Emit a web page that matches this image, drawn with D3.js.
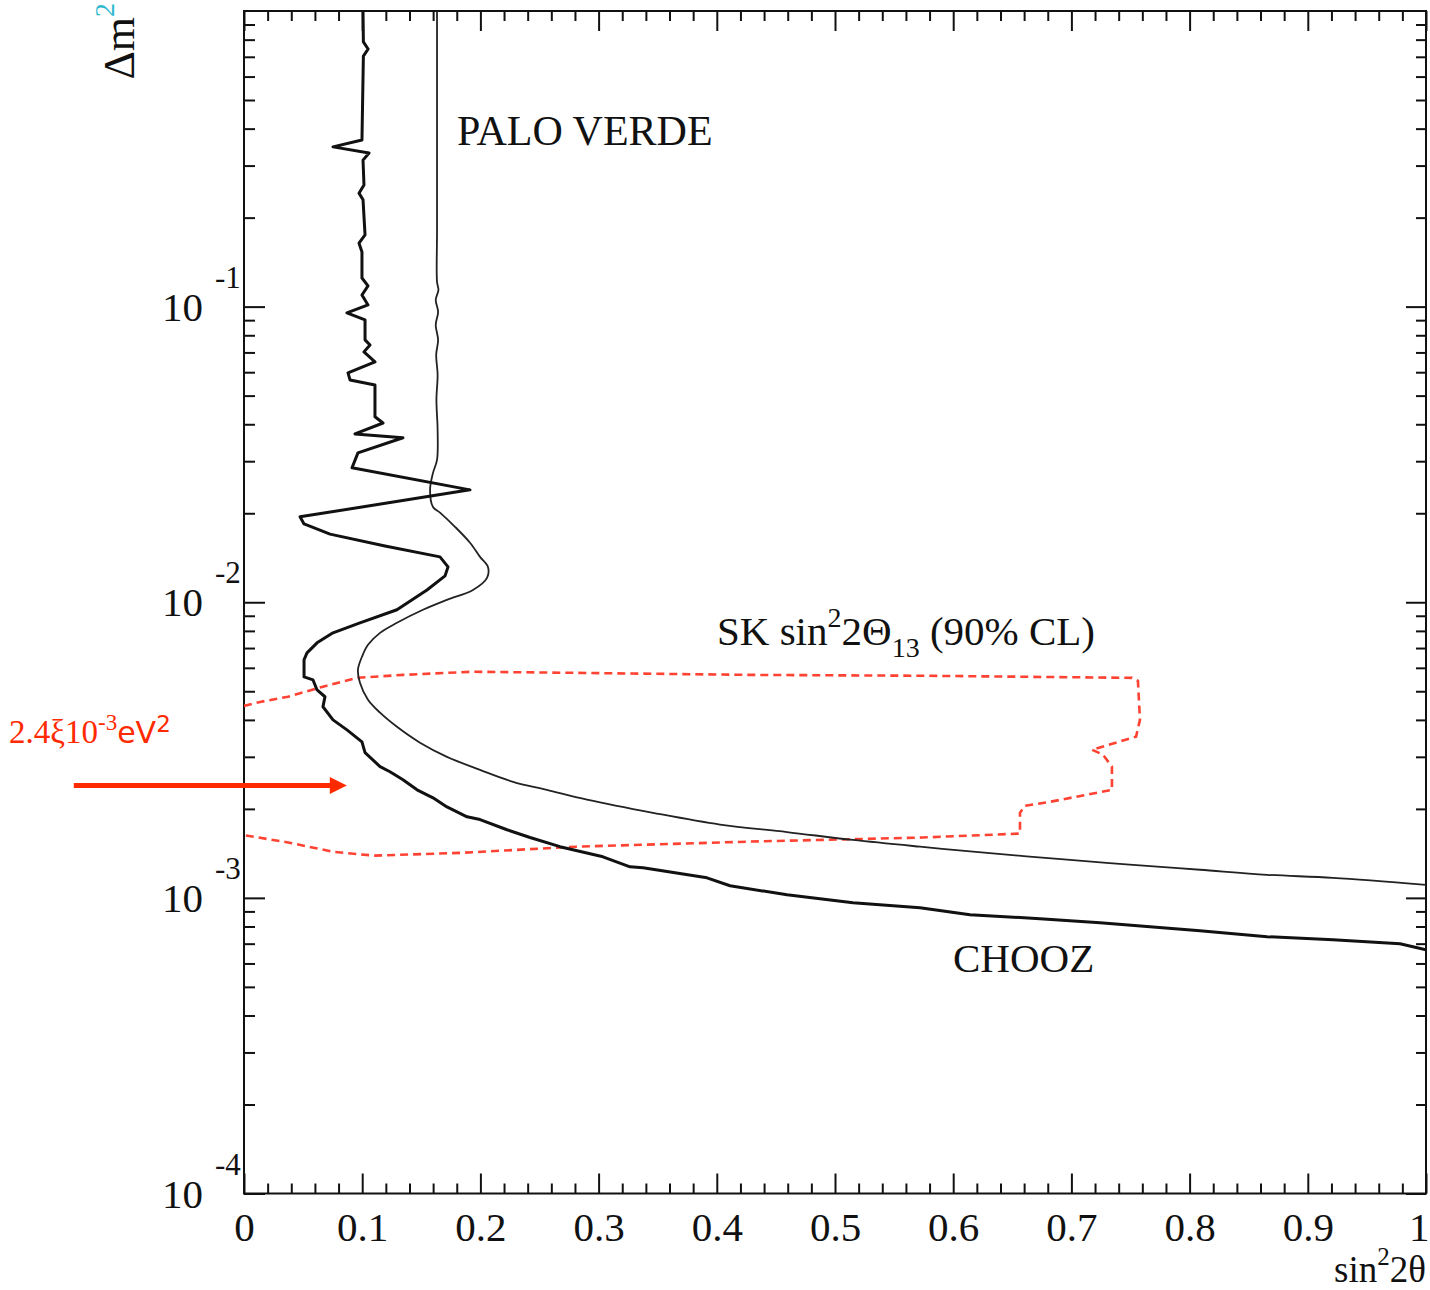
<!DOCTYPE html>
<html>
<head>
<meta charset="utf-8">
<script src="https://cdn.jsdelivr.net/npm/d3@7"></script>
<style>
  html, body { margin: 0; padding: 0; background: #fff; }
  svg { display: block; }
  text, tspan { font-family: "Liberation Serif", "Times New Roman", serif; }
  text { fill: #111; }
</style>
</head>
<body>
<svg id="chart" width="1430" height="1290"></svg>
<script>
// ---- axis tick values and labels ----
const xMajorTicks = [0, 0.1, 0.2, 0.3, 0.4, 0.5, 0.6, 0.7, 0.8, 0.9, 1];
const xTickLabels = ["0", "0.1", "0.2", "0.3", "0.4", "0.5", "0.6", "0.7", "0.8", "0.9", "1"];
const yDecades = [1e-4, 1e-3, 1e-2, 1e-1];
const yExponents = ["-4", "-3", "-2", "-1"];

// ---- CHOOZ exclusion contour (sin^2 2θ, Δm^2 in eV^2) ----
const choozSin2 = [0.1007, 0.101, 0.105, 0.101, 0.0998, 0.0753, 0.1058, 0.1007, 0.1015, 0.0973,
  0.1007, 0.1024, 0.0973, 0.0998, 0.0998, 0.1049, 0.0998, 0.1049, 0.0871, 0.1024,
  0.1024, 0.1066, 0.1015, 0.1108, 0.088, 0.0897, 0.1108, 0.1108, 0.1176, 0.0939,
  0.1345, 0.0964, 0.0914, 0.1912, 0.0474, 0.0508, 0.0728, 0.1193, 0.1658, 0.1726,
  0.1701, 0.1548, 0.1294, 0.0981, 0.0753, 0.0618, 0.0533, 0.0508, 0.0508, 0.0584,
  0.0618, 0.0685, 0.0668, 0.0753, 0.0871, 0.0998, 0.1024, 0.1151, 0.1235, 0.1345,
  0.1464, 0.1599, 0.1717, 0.1887, 0.1997, 0.2225, 0.2420, 0.2673, 0.3037, 0.3266,
  0.3376, 0.3917, 0.4112, 0.4594, 0.5152, 0.5719, 0.6142, 0.6734, 0.7242, 0.8088,
  0.8655, 0.9213, 0.978, 1.0];
const choozDm2 = [1.0, 0.786, 0.744, 0.704, 0.366, 0.347, 0.331, 0.313, 0.258, 0.242,
  0.230, 0.175, 0.164, 0.153, 0.125, 0.1175, 0.1095, 0.1013, 0.0952, 0.0902,
  0.0772, 0.0742, 0.0703, 0.0650, 0.0597, 0.0565, 0.0543, 0.0424, 0.0404, 0.0371,
  0.0360, 0.0320, 0.0285, 0.0240, 0.01945, 0.0184, 0.0170, 0.0155, 0.01424, 0.01317,
  0.01228, 0.0110, 0.00943, 0.00852, 0.00788, 0.00729, 0.00674, 0.00639, 0.00559, 0.00546,
  0.00505, 0.00479, 0.00443, 0.00400, 0.00370, 0.00337, 0.00310, 0.00278, 0.00267, 0.00251,
  0.00232, 0.00218, 0.00203, 0.00188, 0.00184, 0.00170, 0.00160, 0.00149, 0.001377, 0.001274,
  0.001264, 0.001169, 0.001099, 0.001024, 0.000962, 0.000926, 0.000877, 0.000850, 0.000824, 0.000774,
  0.000739, 0.000722, 0.000700, 0.000668];

// ---- Palo Verde exclusion contour ----
const paloSin2 = [0.1633, 0.1633, 0.1633, 0.1633, 0.1645, 0.1622, 0.1642, 0.1622, 0.1642, 0.1626,
  0.1638, 0.1628, 0.1638, 0.1633, 0.1599, 0.1574, 0.1599, 0.1658, 0.1785, 0.1912,
  0.1997, 0.2064, 0.2056, 0.1937, 0.1717, 0.1514, 0.1294, 0.1151, 0.1049, 0.0998,
  0.0964, 0.0981, 0.1049, 0.1151, 0.1294, 0.1489, 0.1717, 0.1997, 0.2276, 0.2563,
  0.2902, 0.346, 0.4027, 0.4594, 0.5152, 0.5719, 0.6286, 0.6963, 0.7521, 0.8088,
  0.8655, 0.9213, 1.0];
const paloDm2 = [1.0, 0.4, 0.18, 0.1212, 0.1139, 0.1054, 0.0960, 0.0867, 0.0772, 0.0687,
  0.0588, 0.0484, 0.0383, 0.0303, 0.0274, 0.0240, 0.0210, 0.0201, 0.0180, 0.0159,
  0.01424, 0.01317, 0.01209, 0.0110, 0.01019, 0.00943, 0.00852, 0.00788, 0.00718, 0.00654,
  0.00591, 0.00534, 0.00468, 0.00423, 0.00379, 0.00335, 0.00300, 0.00271, 0.00247, 0.00232,
  0.00215, 0.00194, 0.00177, 0.00167, 0.00157, 0.00149, 0.00142, 0.001346, 0.001294, 0.001245,
  0.001197, 0.001169, 0.001107];

// ---- Super-Kamiokande allowed region, 90% CL ----
const skSin2 = [0, 0.0135, 0.0372, 0.066, 0.0956, 0.1345, 0.1929, 0.2809, 0.4264, 0.577,
  0.7513, 0.7563, 0.758, 0.7547, 0.7174, 0.7267, 0.7343, 0.7343, 0.681, 0.6607,
  0.6565, 0.6565, 0.5736, 0.4272, 0.2809, 0.1836, 0.11, 0.0761, 0.0372, 0];
const skDm2 = [0.00446, 0.00460, 0.00479, 0.00517, 0.00555, 0.00568, 0.00582, 0.00577, 0.00568, 0.00564,
  0.00555, 0.00542, 0.00400, 0.00351, 0.00317, 0.00305, 0.00278, 0.00232, 0.00211, 0.00205,
  0.00194, 0.00165, 0.00160, 0.00155, 0.00149, 0.00142, 0.00139, 0.00143, 0.00154, 0.00163];

// ---- marked atmospheric mass splitting ----
const markerDm2 = 2.4e-3;
const markerSin2From = -0.144;
const markerSin2To = 0.087;

// ---- scales ----
const svg = d3.select("#chart");
svg.append("rect").attr("width", 1430).attr("height", 1290).attr("fill", "#fff");

const x = d3.scaleLinear().domain([0, 1]).range([244, 1426]);
const y = d3.scaleLog().domain([1e-4, 1]).range([1193.5, 11]);
const [x0, x1] = x.range();
const [yB, yT] = y.range();

const xMinor = d3.range(0, 51).map(i => i / 50).filter(v => Math.abs(v * 10 - Math.round(v * 10)) > 1e-6);
const yMinor = y.ticks().filter(v => {
  const l = Math.log10(v);
  return Math.abs(l - Math.round(l)) > 1e-6;
});

function styleAxis(g) {
  g.select(".domain").remove();
  g.selectAll(".tick line").attr("stroke", "#111").attr("stroke-width", 2);
}

// ---- ticks on all four sides, pointing inward ----
const axes = svg.append("g");
axes.append("g").attr("transform", `translate(0,${yB})`)
  .call(d3.axisBottom(x).tickValues(xMinor).tickSize(-10).tickFormat(""))
  .call(styleAxis);
const bottomMajor = axes.append("g").attr("transform", `translate(0,${yB})`)
  .call(d3.axisBottom(x).tickValues(xMajorTicks).tickSize(-20).tickPadding(18)
    .tickFormat((d, i) => xTickLabels[i]))
  .call(styleAxis);
bottomMajor.attr("font-family", null).attr("font-size", null);
bottomMajor.selectAll(".tick text").attr("font-size", 41).attr("fill", "#111");
// the last label sits on the right edge of the page; keep it fully on the page
bottomMajor.selectAll(".tick text").filter(d => d === 1)
  .attr("text-anchor", "end").attr("x", 1429 - x(1));

axes.append("g").attr("transform", `translate(0,${yT})`)
  .call(d3.axisTop(x).tickValues(xMinor).tickSize(-10).tickFormat(""))
  .call(styleAxis);
axes.append("g").attr("transform", `translate(0,${yT})`)
  .call(d3.axisTop(x).tickValues(xMajorTicks).tickSize(-20).tickFormat(""))
  .call(styleAxis);

axes.append("g").attr("transform", `translate(${x0},0)`)
  .call(d3.axisLeft(y).tickValues(yMinor).tickSize(-11).tickFormat(""))
  .call(styleAxis);
axes.append("g").attr("transform", `translate(${x0},0)`)
  .call(d3.axisLeft(y).tickValues(yDecades).tickSize(-21).tickFormat(""))
  .call(styleAxis);
axes.append("g").attr("transform", `translate(${x1},0)`)
  .call(d3.axisRight(y).tickValues(yMinor).tickSize(-10).tickFormat(""))
  .call(styleAxis);
axes.append("g").attr("transform", `translate(${x1},0)`)
  .call(d3.axisRight(y).tickValues(yDecades).tickSize(-20).tickFormat(""))
  .call(styleAxis);

// frame
svg.append("rect")
  .attr("x", x0).attr("y", yT).attr("width", x1 - x0).attr("height", yB - yT)
  .attr("fill", "none").attr("stroke", "#111").attr("stroke-width", 2);

// decade labels written as 10 with a raised exponent
const yLab = svg.append("g");
yDecades.forEach((d, i) => {
  yLab.append("text").attr("x", 203).attr("y", y(d) + 14)
    .attr("text-anchor", "end").attr("font-size", 41).text("10");
  yLab.append("text").attr("x", 215).attr("y", y(d) - 19)
    .attr("font-size", 31).text(yExponents[i]);
});

// ---- contours ----
const clip = svg.append("clipPath").attr("id", "plotArea");
clip.append("rect").attr("x", x0).attr("y", yT).attr("width", x1 - x0).attr("height", yB - yT);
const plot = svg.append("g").attr("clip-path", "url(#plotArea)");

const pairs = (xs, ys) => xs.map((v, i) => [v, ys[i]]);
const straight = d3.line().x(d => x(d[0])).y(d => y(d[1]));
const smooth = d3.line().x(d => x(d[0])).y(d => y(d[1])).curve(d3.curveCatmullRom.alpha(0.5));

plot.append("path")
  .datum(pairs(skSin2, skDm2))
  .attr("d", straight)
  .attr("fill", "none").attr("stroke", "#ff4232").attr("stroke-width", 2.6)
  .attr("stroke-dasharray", "8,5");

plot.append("path")
  .datum(pairs(paloSin2, paloDm2))
  .attr("d", smooth)
  .attr("fill", "none").attr("stroke", "#222").attr("stroke-width", 1.8);

plot.append("path")
  .datum(pairs(choozSin2, choozDm2))
  .attr("d", straight)
  .attr("fill", "none").attr("stroke", "#111").attr("stroke-width", 3)
  .attr("stroke-linejoin", "round");

// ---- curve labels ----
svg.append("text").attr("x", 457).attr("y", 145).attr("font-size", 42).text("PALO VERDE");
svg.append("text").attr("x", 953).attr("y", 972).attr("font-size", 41).text("CHOOZ");

const sk = svg.append("text").attr("x", 717).attr("y", 645).attr("font-size", 41);
sk.append("tspan").text("SK sin");
sk.append("tspan").attr("dy", -18).attr("font-size", 28).text("2");
sk.append("tspan").attr("dy", 18).text("2Θ");
sk.append("tspan").attr("dy", 12).attr("font-size", 28).text("13");
sk.append("tspan").attr("dy", -12).text(" (90% CL)");

// ---- axis titles ----
const xt = svg.append("text").attr("x", 1426).attr("y", 1282)
  .attr("text-anchor", "end").attr("font-size", 37);
xt.append("tspan").text("sin");
xt.append("tspan").attr("dy", -17).attr("font-size", 25).text("2");
xt.append("tspan").attr("dy", 17).text("2θ");

const yt = svg.append("text").attr("transform", "translate(134,3) rotate(-90)")
  .attr("text-anchor", "end").attr("font-size", 44);
yt.append("tspan").text("Δm");
yt.append("tspan").attr("dy", -20).attr("font-size", 28).style("fill", "#2fb8d0").text("2");

// ---- marker arrow at Δm² = 2.4e-3 eV² ----
const red = "#ff2a00";
const ay = y(markerDm2);
const tip = x(markerSin2To);
svg.append("line")
  .attr("x1", x(markerSin2From)).attr("x2", tip - 16)
  .attr("y1", ay).attr("y2", ay)
  .attr("stroke", red).attr("stroke-width", 5);
svg.append("path")
  .attr("d", `M${tip},${ay} L${tip - 17},${ay - 8.5} L${tip - 17},${ay + 8.5} Z`)
  .attr("fill", red);

const lab = svg.append("text").attr("x", 9).attr("y", 743).style("fill", red);
lab.append("tspan").attr("font-size", 33).style("fill", red)
  .style("font-family", "'Liberation Serif', serif").text("2.4ξ10");
lab.append("tspan").attr("dy", -13).attr("font-size", 23).style("fill", red)
  .style("font-family", "'Liberation Serif', serif").text("-3");
lab.append("tspan").attr("dy", 13).attr("font-size", 30).style("fill", red)
  .style("font-family", "'DejaVu Sans', sans-serif").text("eV");
lab.append("tspan").attr("dy", -11).attr("font-size", 23).style("fill", red)
  .style("font-family", "'DejaVu Sans', sans-serif").text("2");
</script>
</body>
</html>
